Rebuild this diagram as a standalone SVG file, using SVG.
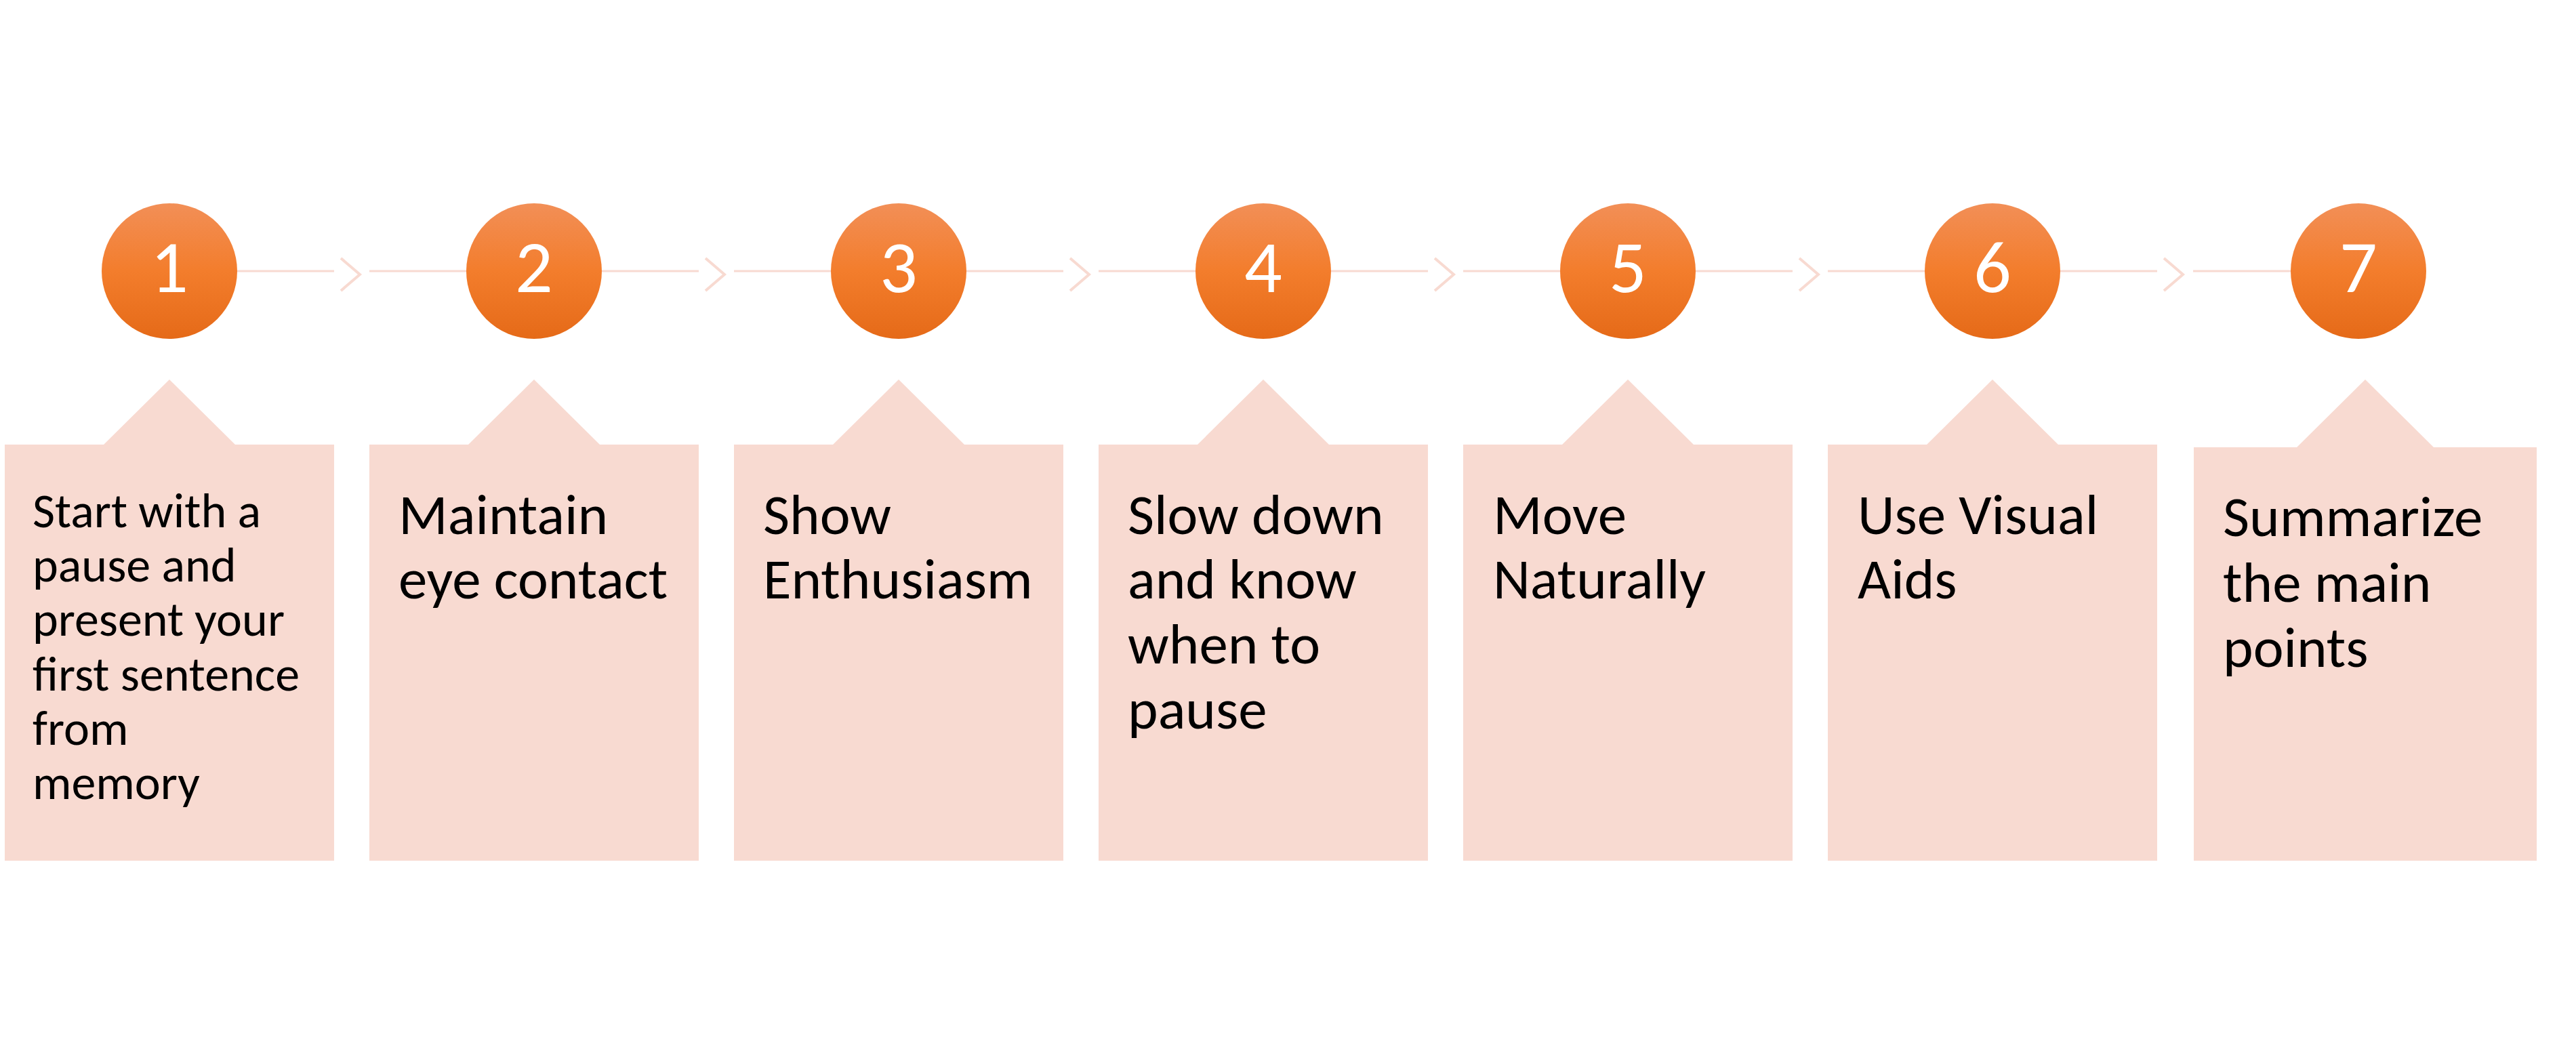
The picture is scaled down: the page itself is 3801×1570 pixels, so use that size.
<svg xmlns="http://www.w3.org/2000/svg" width="3801" height="1570" viewBox="0 0 3801 1570">
<style>
.box{fill:#F8DAD1;}
.conn{stroke:#F8DAD1;stroke-width:3;fill:none;}
.chev{stroke:#F8DAD1;stroke-width:4;fill:none;stroke-linejoin:miter;}
.num{font-family:Carlito,Lato,"Liberation Sans",sans-serif;font-size:110px;fill:#FFFFFF;text-anchor:middle;}
.lbl{font-family:Carlito,Lato,"Liberation Sans",sans-serif;font-size:85px;fill:#000000;}
.lbl1{font-family:Carlito,Lato,"Liberation Sans",sans-serif;font-size:72px;fill:#000000;}
</style>
<defs>
<linearGradient id="og" x1="0" y1="0" x2="0" y2="1">
<stop offset="0" stop-color="#F28F57"/>
<stop offset="0.5" stop-color="#F37D2C"/>
<stop offset="1" stop-color="#E56A18"/>
</linearGradient>
</defs>
<rect width="3801" height="1570" fill="#FFFFFF"/>
<g id="connectors">
<path class="conn" d="M350,400H493M545,400H688"/>
<path class="chev" d="M503,381L531,405L503,429"/>
<path class="conn" d="M888,400H1031M1083,400H1226"/>
<path class="chev" d="M1041,381L1069,405L1041,429"/>
<path class="conn" d="M1426,400H1569M1621,400H1764"/>
<path class="chev" d="M1579,381L1607,405L1579,429"/>
<path class="conn" d="M1964,400H2107M2159,400H2302"/>
<path class="chev" d="M2117,381L2145,405L2117,429"/>
<path class="conn" d="M2502,400H2645M2697,400H2840"/>
<path class="chev" d="M2655,381L2683,405L2655,429"/>
<path class="conn" d="M3040,400H3183M3236,400H3380"/>
<path class="chev" d="M3193,381L3221,405L3193,429"/>
</g>
<g id="node1">
<circle cx="250" cy="400" r="100" fill="url(#og)"/>
<text class="num" x="250" y="431">1</text>
<path class="box" d="M7,656H153L250,560L347,656H493V1270H7Z"/>
<text class="lbl1" x="48" y="778"><tspan x="48">Start with a</tspan><tspan x="48" dy="80.2">pause and</tspan><tspan x="48" dy="80.2">present your</tspan><tspan x="48" dy="80.2">first sentence</tspan><tspan x="48" dy="80.2">from</tspan><tspan x="48" dy="80.2">memory</tspan></text>
</g>
<g id="node2">
<circle cx="788" cy="400" r="100" fill="url(#og)"/>
<text class="num" x="788" y="431">2</text>
<path class="box" d="M545,656H691L788,560L885,656H1031V1270H545Z"/>
<text class="lbl" y="787.5"><tspan x="588">Maintain</tspan><tspan x="588" dy="95.5">eye contact</tspan></text>
</g>
<g id="node3">
<circle cx="1326" cy="400" r="100" fill="url(#og)"/>
<text class="num" x="1326" y="431">3</text>
<path class="box" d="M1083,656H1229L1326,560L1423,656H1569V1270H1083Z"/>
<text class="lbl" y="787.5"><tspan x="1126">Show</tspan><tspan x="1126" dy="95.5">Enthusiasm</tspan></text>
</g>
<g id="node4">
<circle cx="1864" cy="400" r="100" fill="url(#og)"/>
<text class="num" x="1864" y="431">4</text>
<path class="box" d="M1621,656H1767L1864,560L1961,656H2107V1270H1621Z"/>
<text class="lbl" y="787.5"><tspan x="1664">Slow down</tspan><tspan x="1664" dy="95.8">and know</tspan><tspan x="1664" dy="95.8">when to</tspan><tspan x="1664" dy="95.8">pause</tspan></text>
</g>
<g id="node5">
<circle cx="2402" cy="400" r="100" fill="url(#og)"/>
<text class="num" x="2402" y="431">5</text>
<path class="box" d="M2159,656H2305L2402,560L2499,656H2645V1270H2159Z"/>
<text class="lbl" y="787.5"><tspan x="2203">Move</tspan><tspan x="2203" dy="95.5">Naturally</tspan></text>
</g>
<g id="node6">
<circle cx="2940" cy="400" r="100" fill="url(#og)"/>
<text class="num" x="2940" y="431">6</text>
<path class="box" d="M2697,656H2843L2940,560L3037,656H3183V1270H2697Z"/>
<text class="lbl" y="787.5"><tspan x="2741">Use Visual</tspan><tspan x="2741" dy="95.5">Aids</tspan></text>
</g>
<g id="node7">
<circle cx="3480" cy="400" r="100" fill="url(#og)"/>
<text class="num" x="3480" y="431">7</text>
<path class="box" d="M3237,660H3389L3490,560L3591,660H3743V1270H3237Z"/>
<text class="lbl" y="791"><tspan x="3280">Summarize</tspan><tspan x="3280" dy="96.5">the main</tspan><tspan x="3280" dy="96.5">points</tspan></text>
</g>
</svg>
